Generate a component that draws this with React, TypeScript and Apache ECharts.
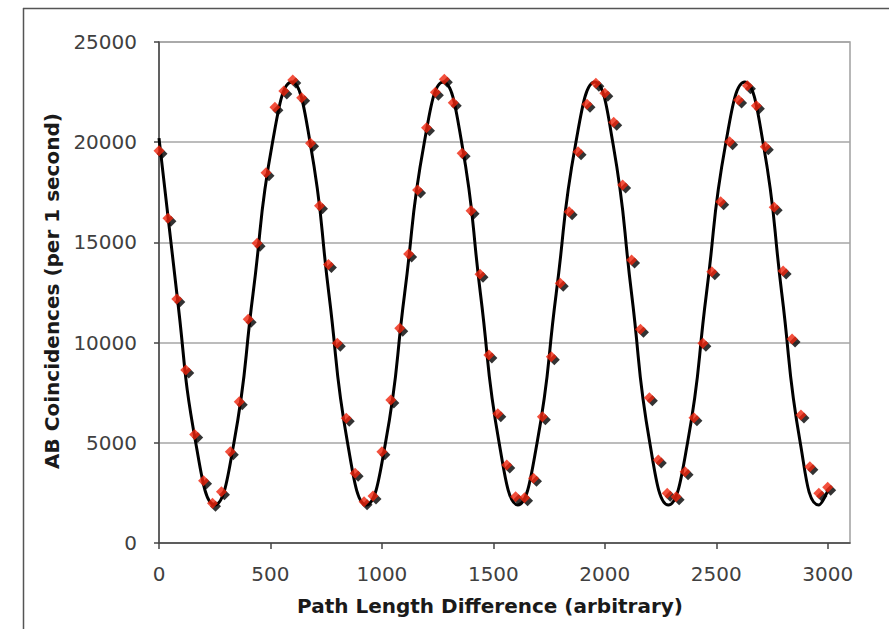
import React, { useEffect, useRef } from "react";
import * as echarts from "echarts";

// Measured data points (red diamonds)
const pathDiff = [
  0, 40, 80, 120, 160, 200, 240, 280, 320, 360, 400, 440, 480, 520, 560, 600, 640, 680, 720, 760,
  800, 840, 880, 920, 960, 1000, 1040, 1080, 1120, 1160, 1200, 1240, 1280, 1320, 1360, 1400, 1440, 1480, 1520, 1560,
  1600, 1640, 1680, 1720, 1760, 1800, 1840, 1880, 1920, 1960, 2000, 2040, 2080, 2120, 2160, 2200, 2240, 2280, 2320, 2360,
  2400, 2440, 2480, 2520, 2560, 2600, 2640, 2680, 2720, 2760, 2800, 2840, 2880, 2920, 2960, 3000,
];
const coincidences = [
  19575, 16200, 12175, 8630, 5420, 3110, 1980, 2560, 4555, 7050, 11160, 14955, 18480, 21740, 22555, 23100, 22220, 19945, 16830, 13900,
  9965, 6220, 3475, 2060, 2345, 4555, 7135, 10710, 14420, 17615, 20725, 22490, 23140, 21970, 19445, 16585, 13410, 9380, 6450, 3890,
  2310, 2260, 3225, 6300, 9300, 12960, 16535, 19525, 21890, 22940, 22440, 20990, 17865, 14120, 10660, 7250, 4140, 2480, 2310, 3560,
  6255, 9965, 13540, 17030, 20025, 22105, 22820, 21820, 19775, 16750, 13570, 10180, 6390, 3810, 2480, 2780,
];

// Fitted curve (black line)
const fitX = [
  0, 80, 165, 250, 336, 422, 508, 595, 679, 762, 846, 930, 1016, 1102, 1189, 1275, 1359, 1442, 1526, 1610,
  1696, 1782, 1869, 1955, 2037, 2120, 2202, 2285, 2371, 2456, 2542, 2628, 2711, 2794, 2877, 2960, 3000,
];
const fitY = [
  20200, 12450, 4990, 1900, 4990, 12450, 19910, 23000, 19910, 12450, 4990, 1900, 4990, 12450, 19910, 23000, 19910, 12450, 4990, 1900,
  4990, 12450, 19910, 23000, 19910, 12450, 4990, 1900, 4990, 12450, 19910, 23000, 19910, 12450, 4990, 1900, 2600,
];

const xTicks = [0, 500, 1000, 1500, 2000, 2500, 3000];
const xMax = 3100;
const yMin = 0;
const yMax = 25000;
const yStep = 5000;

const xTitle = "Path Length Difference (arbitrary)";
const yTitle = "AB Coincidences (per 1 second)";

export default function App() {
  const ref = useRef<HTMLDivElement>(null);

  useEffect(() => {
    if (!ref.current) return;
    const chart = echarts.init(ref.current, null, { renderer: "svg" });
    const pts = pathDiff.map((x, i) => [x, coincidences[i]]);
    const fit = fitX.map((x, i) => [x, fitY[i]]);
    const font = '"DejaVu Sans", Verdana, sans-serif';
    const plain = (v: number) => String(v);

    chart.setOption({
      animation: false,
      backgroundColor: "#ffffff",
      grid: {
        left: 159,
        top: 42,
        width: 691,
        height: 501,
        show: true,
        borderColor: "#a0a0a0",
        borderWidth: 1.5,
        backgroundColor: "transparent",
      },
      xAxis: {
        type: "value",
        min: 0,
        max: xMax,
        interval: 500,
        axisLine: { show: true, onZero: false, lineStyle: { color: "#444444", width: 1.5 } },
        axisTick: {
          show: true,
          length: 6,
          customValues: xTicks,
          lineStyle: { color: "#444444", width: 1.5 },
        },
        axisLabel: {
          customValues: xTicks,
          formatter: plain,
          margin: 21,
          fontSize: 20,
          fontFamily: font,
          color: "#404040",
        },
        splitLine: { show: false },
      },
      yAxis: {
        type: "value",
        min: yMin,
        max: yMax,
        interval: yStep,
        axisLine: { show: true, onZero: false, lineStyle: { color: "#444444", width: 1.5 } },
        axisTick: { show: true, length: 5, lineStyle: { color: "#444444", width: 1.5 } },
        axisLabel: {
          formatter: plain,
          margin: 22,
          fontSize: 20,
          fontFamily: font,
          color: "#404040",
        },
        splitLine: { show: true, lineStyle: { color: "#a6a6a6", width: 1.5 } },
      },
      graphic: [
        {
          type: "line",
          shape: { x1: 23, y1: 8.5, x2: 889, y2: 8.5 },
          style: { stroke: "#555555", lineWidth: 1.5 },
          silent: true,
        },
        {
          type: "line",
          shape: { x1: 23.5, y1: 8, x2: 23.5, y2: 629 },
          style: { stroke: "#555555", lineWidth: 1.5 },
          silent: true,
        },
        {
          type: "text",
          x: 490,
          y: 606,
          style: {
            text: xTitle,
            font: 'bold 20px "DejaVu Sans", Verdana, sans-serif',
            fill: "#1a1a1a",
            textAlign: "center",
            textVerticalAlign: "middle",
          },
          silent: true,
        },
        {
          type: "text",
          x: 52,
          y: 291,
          rotation: Math.PI / 2,
          style: {
            text: yTitle,
            font: 'bold 20px "DejaVu Sans", Verdana, sans-serif',
            fill: "#1a1a1a",
            textAlign: "center",
            textVerticalAlign: "middle",
          },
          silent: true,
        },
      ],
      series: [
        {
          type: "line",
          data: fit,
          smooth: 0.5,
          symbol: "none",
          lineStyle: { color: "#000000", width: 3 },
          z: 2,
        },
        {
          type: "scatter",
          data: pts,
          symbol: "diamond",
          symbolSize: 11,
          symbolOffset: [3, 3],
          itemStyle: { color: "#000000" },
          z: 3,
        },
        {
          type: "scatter",
          data: pts,
          symbol: "diamond",
          symbolSize: 11,
          itemStyle: { color: "#f0240c" },
          z: 4,
        },
      ],
    });

    return () => {
      chart.dispose();
    };
  }, []);

  return (
    <div
      ref={ref}
      style={{ position: "fixed", left: 0, top: 0, width: 889, height: 629, background: "#fff" }}
    />
  );
}
